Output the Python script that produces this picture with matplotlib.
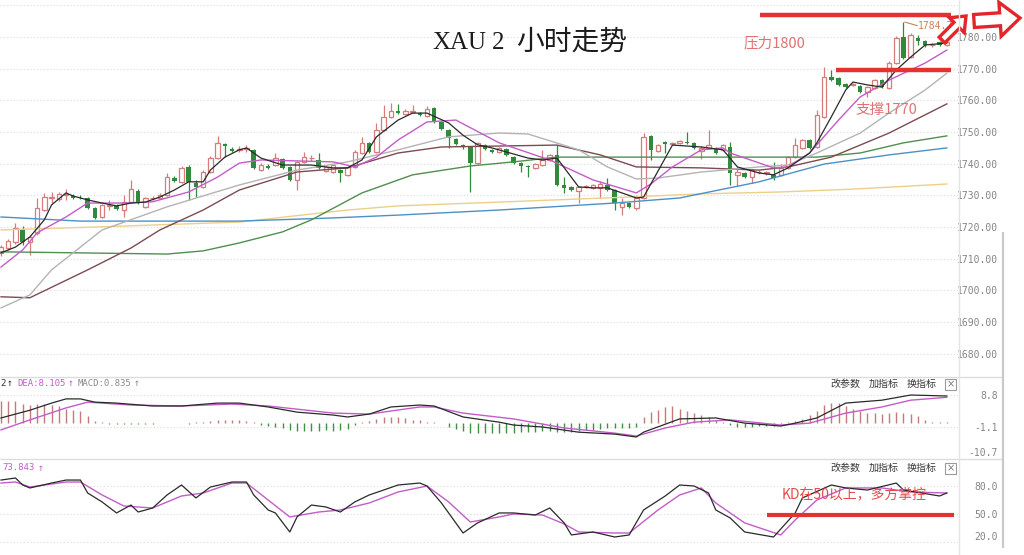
import matplotlib.pyplot as plt
from matplotlib.patches import Rectangle, FancyArrow
import numpy as np

# XAU 2h candles, oldest first
opens = [1711.9, 1713.4, 1715.3, 1719.4, 1715.3, 1718.2, 1725.4, 1729.3, 1728.9, 1730.0,
         1729.8, 1729.6, 1729.2, 1726.1, 1723.2, 1726.8, 1726.7, 1725.4, 1728.0, 1731.4,
         1726.4, 1729.1, 1729.2, 1730.2, 1735.5, 1734.3, 1739.0, 1734.0, 1732.7, 1737.4,
         1741.8, 1746.2, 1744.7, 1744.3, 1744.6, 1744.4, 1738.0, 1739.3, 1739.6, 1741.5,
         1739.0, 1734.9, 1740.6, 1741.7, 1741.2, 1737.7, 1737.4, 1738.0, 1736.5, 1739.0,
         1743.4, 1746.6, 1743.7, 1750.7, 1754.8, 1756.7, 1755.7, 1756.3, 1756.0, 1755.1,
         1757.6, 1753.2, 1750.7, 1747.8, 1745.9, 1745.3, 1740.3, 1745.9, 1744.4, 1743.7,
         1744.7, 1742.1, 1740.3, 1739.3, 1738.7, 1739.6, 1741.2, 1742.8, 1733.3, 1732.7,
         1731.4, 1732.6, 1732.4, 1732.4, 1733.3, 1731.7, 1726.4, 1727.6, 1726.1, 1729.2,
         1748.8, 1744.0, 1746.9, 1746.2, 1746.6, 1746.9, 1746.6, 1744.0, 1745.0, 1745.0,
         1744.4, 1745.3, 1736.5, 1737.1, 1735.8, 1737.3, 1737.0, 1736.5, 1736.5, 1738.7,
         1742.1, 1745.0, 1747.5, 1745.3, 1754.8, 1767.4, 1767.1, 1765.2, 1764.8, 1764.5,
         1762.6, 1763.9, 1766.4, 1763.9, 1771.8, 1780.0, 1773.7, 1779.7, 1778.7, 1777.4,
         1778.4, 1777.5]
highs = [1714.5, 1716.2, 1721.3, 1720.4, 1717.5, 1729.2, 1730.8, 1731.1, 1731.2, 1732.0,
         1730.3, 1730.1, 1729.6, 1726.4, 1727.4, 1728.6, 1727.3, 1730.2, 1734.9, 1732.0,
         1729.6, 1729.8, 1730.8, 1737.1, 1736.0, 1739.2, 1739.6, 1734.9, 1737.9, 1742.3,
         1748.8, 1746.6, 1745.2, 1745.6, 1746.0, 1744.8, 1740.2, 1739.8, 1743.4, 1741.9,
         1739.4, 1741.0, 1743.7, 1742.8, 1743.4, 1739.4, 1740.0, 1738.4, 1739.4, 1744.2,
         1748.5, 1747.0, 1752.9, 1758.5, 1759.2, 1758.9, 1757.2, 1758.5, 1756.4, 1758.2,
         1758.0, 1753.6, 1751.1, 1748.2, 1746.3, 1745.7, 1747.0, 1746.3, 1744.8, 1745.4,
         1745.1, 1742.5, 1740.7, 1739.7, 1740.3, 1744.4, 1743.2, 1746.0, 1735.8, 1733.1,
         1733.1, 1733.2, 1733.7, 1734.6, 1735.5, 1732.1, 1729.2, 1728.0, 1730.2, 1749.7,
         1749.2, 1746.3, 1747.3, 1747.0, 1747.6, 1750.0, 1747.0, 1745.6, 1750.7, 1745.4,
         1746.3, 1746.9, 1739.0, 1737.5, 1738.4, 1738.0, 1737.7, 1740.6, 1740.0, 1742.5,
         1748.1, 1747.9, 1747.9, 1757.0, 1770.5, 1769.6, 1767.5, 1765.6, 1765.5, 1764.9,
         1764.6, 1766.8, 1766.8, 1772.3, 1780.2, 1784.7, 1781.3, 1780.6, 1779.1, 1778.2,
         1778.8, 1778.8]
lows = [1711.0, 1712.8, 1714.8, 1714.4, 1711.2, 1717.5, 1725.0, 1727.6, 1728.4, 1728.6,
        1728.8, 1729.0, 1725.7, 1722.6, 1722.8, 1725.4, 1725.3, 1723.2, 1727.6, 1727.2,
        1726.0, 1728.7, 1728.8, 1729.8, 1734.2, 1733.9, 1728.6, 1729.5, 1732.3, 1737.0,
        1741.4, 1742.1, 1743.6, 1743.7, 1743.7, 1738.3, 1737.6, 1738.3, 1739.2, 1738.3,
        1734.5, 1731.7, 1740.2, 1740.8, 1738.3, 1737.3, 1737.0, 1734.3, 1736.0, 1738.6,
        1743.0, 1743.3, 1743.3, 1750.3, 1754.4, 1755.6, 1755.3, 1756.0, 1755.0, 1754.7,
        1752.8, 1750.6, 1745.0, 1745.8, 1744.6, 1731.1, 1739.9, 1744.3, 1743.3, 1743.3,
        1742.4, 1739.9, 1737.4, 1735.8, 1738.3, 1739.2, 1740.8, 1733.0, 1730.8, 1731.3,
        1727.6, 1732.2, 1732.0, 1729.2, 1731.3, 1725.4, 1723.8, 1726.0, 1725.4, 1728.8,
        1741.2, 1743.6, 1743.4, 1745.8, 1746.2, 1746.2, 1744.6, 1741.5, 1744.6, 1743.0,
        1744.0, 1733.3, 1733.0, 1735.4, 1734.0, 1736.9, 1736.6, 1734.9, 1736.1, 1738.3,
        1741.7, 1744.6, 1744.6, 1744.9, 1754.4, 1766.0, 1764.5, 1763.8, 1764.4, 1762.2,
        1761.1, 1763.5, 1763.8, 1763.5, 1771.4, 1773.0, 1773.3, 1777.5, 1776.8, 1777.0,
        1777.1, 1777.1]
closes = [1713.8, 1715.6, 1719.7, 1715.3, 1716.9, 1726.1, 1729.5, 1729.6, 1730.5, 1730.3,
          1729.2, 1729.4, 1726.1, 1722.9, 1727.0, 1727.1, 1725.7, 1728.0, 1732.0, 1727.6,
          1729.2, 1729.3, 1730.2, 1735.8, 1734.6, 1738.7, 1734.3, 1732.7, 1737.4, 1741.8,
          1746.6, 1745.6, 1744.0, 1744.5, 1744.8, 1738.7, 1739.6, 1738.7, 1741.8, 1738.7,
          1734.9, 1740.6, 1742.1, 1741.9, 1738.7, 1739.0, 1739.6, 1737.1, 1739.0, 1743.7,
          1746.6, 1743.7, 1750.7, 1754.8, 1756.7, 1756.0, 1756.7, 1756.4, 1755.4, 1757.3,
          1753.2, 1751.0, 1748.1, 1746.2, 1745.3, 1740.3, 1746.6, 1744.7, 1743.7, 1745.0,
          1742.8, 1740.3, 1739.3, 1739.0, 1739.9, 1741.2, 1742.8, 1733.3, 1732.4, 1731.7,
          1732.7, 1732.8, 1733.3, 1733.6, 1731.7, 1727.6, 1727.6, 1726.4, 1729.2, 1748.5,
          1744.4, 1745.9, 1746.2, 1746.6, 1747.2, 1746.6, 1745.0, 1745.0, 1745.9, 1743.4,
          1745.9, 1737.1, 1737.4, 1735.8, 1738.0, 1737.5, 1737.2, 1735.5, 1738.7, 1742.1,
          1745.9, 1747.5, 1745.0, 1755.4, 1767.4, 1766.4, 1764.9, 1764.2, 1765.0, 1762.6,
          1764.2, 1766.4, 1764.2, 1771.8, 1779.7, 1773.4, 1780.6, 1778.7, 1777.5, 1777.6,
          1777.5, 1778.4]

# moving averages, read at bar positions
ma5_x = [0, 2, 4, 6, 7, 9, 10, 12, 14, 16, 18, 20, 22, 24, 26, 28, 29, 31, 33, 34,
         36, 39, 41, 43, 46, 48, 50, 52, 55, 57, 59, 62, 64, 66, 68, 73, 75, 77, 80, 82,
         84, 88, 89, 93, 97, 100, 102, 105, 107, 109, 112, 113, 115, 117, 118, 120, 122, 124, 126, 128, 131]
ma5 = [1711.9, 1713.7, 1716.9, 1722.3, 1727.0, 1730.8, 1729.8, 1728.6, 1727.6, 1726.7,
       1727.6, 1727.9, 1729.5, 1731.7, 1734.3, 1734.3, 1738.0, 1742.1, 1744.4, 1745.0,
       1741.8, 1739.6, 1739.6, 1739.6, 1738.7, 1738.7, 1741.2, 1748.5, 1753.8, 1756.0,
       1756.0, 1752.9, 1749.0, 1746.0, 1745.0, 1741.8, 1741.2, 1741.8, 1732.7, 1732.4,
       1732.4, 1729.2, 1729.5, 1745.9, 1745.3, 1744.4, 1739.0, 1737.1, 1736.5, 1738.7,
       1743.4, 1746.6, 1754.8, 1763.3, 1765.8, 1764.9, 1764.2, 1769.6, 1773.7, 1777.5, 1778.1]
ma10_x = [0, 3, 5, 9, 12, 17, 21, 26, 30, 33, 36, 46, 49, 52, 55, 59, 63, 69, 76, 82,
          88, 90, 93, 97, 100, 101, 107, 109, 112, 116, 119, 123, 128, 131]
ma10 = [1707.4, 1712.8, 1718.2, 1723.2, 1727.6, 1727.6, 1728.0, 1731.1, 1735.8, 1740.2,
        1741.2, 1740.6, 1739.0, 1742.1, 1747.5, 1753.2, 1753.8, 1746.6, 1741.2, 1734.9,
        1730.8, 1733.6, 1739.0, 1744.4, 1745.0, 1743.4, 1738.7, 1739.0, 1743.4, 1753.8,
        1761.1, 1766.4, 1771.8, 1775.9]
ma20_x = [0, 4, 7, 14, 23, 33, 41, 48, 55, 62, 69, 73, 80, 84, 88, 91, 97, 105, 109, 113,
          119, 123, 128, 131]
ma20 = [1694.5, 1698.6, 1706.5, 1719.1, 1726.4, 1733.3, 1738.0, 1740.6, 1744.4, 1748.5,
        1749.7, 1749.4, 1744.4, 1739.0, 1735.2, 1735.5, 1737.4, 1739.0, 1739.6, 1743.4,
        1749.7, 1756.0, 1763.3, 1768.6]
ma30_x = [0, 4, 12, 18, 22, 28, 33, 41, 48, 55, 61, 77, 83, 88, 97, 105, 109, 115, 123, 131]
ma30 = [1698.0, 1697.7, 1706.5, 1713.4, 1719.1, 1725.4, 1731.7, 1737.4, 1738.7, 1743.4,
        1745.3, 1745.9, 1742.8, 1739.0, 1738.7, 1738.0, 1739.0, 1742.1, 1749.7, 1758.9]
ma60_x = [0, 23, 28, 33, 39, 43, 50, 57, 65, 71, 77, 113, 119, 125, 131]
ma60 = [1712.2, 1711.5, 1712.5, 1715.0, 1718.5, 1722.3, 1730.8, 1736.5, 1739.3, 1740.6,
        1742.1, 1742.1, 1743.4, 1746.6, 1748.8]
ma120_x = [0, 11, 33, 46, 55, 69, 85, 94, 105, 114, 123, 131]
ma120 = [1723.2, 1721.9, 1721.9, 1722.9, 1723.8, 1725.4, 1727.6, 1729.2, 1734.3, 1739.9, 1742.8, 1745.0]
ma250_x = [0, 14, 33, 48, 55, 69, 87, 97, 108, 118, 131]
ma250 = [1719.1, 1720.1, 1721.6, 1725.4, 1726.7, 1727.9, 1729.5, 1730.5, 1731.1, 1732.0, 1733.6]

# MACD
macd_hist = [6.8, 6.8, 6.8, 5.9, 5.6, 5.9, 5.9, 5.6, 5.3, 4.6, 4.3, 3.7, 2.2, 0.9,
             0.3, -0.3, -0.3, -0.3, -0.3, -0.3, -0.3, -0.3, 0.2, 0.2, 0.0, 0.2, -0.2,
             0.3, 0.5, 0.9, 1.2, 1.2, 1.2, 1.0, 0.8, 0.3,
             -0.6, -0.9, -1.2, -1.5, -1.9, -2.2, -2.2, -2.2, -2.2, -2.0, -2.2, -2.0, -1.6, -0.6,
             0.3, 0.9, 1.5, 1.9, 2.0, 1.9, 1.6, 1.2, 1.0, 0.6, 0.3, 0.0,
             -1.0, -1.6, -2.2, -3.0, -3.1, -3.1, -3.1, -3.0, -3.1,
             -3.0, -2.8, -2.6, -2.5, -2.3, -2.2, -2.6, -2.6, -2.5, -2.3, -2.0, -1.9, -1.6,
             -1.4, -1.5, -1.5, -1.3, -1.0,
             1.9, 3.4, 4.3, 5.0, 5.3, 4.6, 4.0, 3.1, 2.5, 1.9, 1.2, 0.3,
             -0.6, -1.2, -1.2, -1.1, -0.9, -0.9, -0.9, -0.3,
             0.3, 0.9, 1.5, 2.5, 4.0, 5.6, 6.2, 6.2, 5.3, 4.6, 3.7, 3.1, 3.1, 2.8, 3.1,
             3.4, 3.1, 2.8, 2.2, 1.2, 0.6, 0.6, 0.5]
dif_x = [0, 4, 7, 9, 11, 13, 16, 21, 25, 30, 33, 37, 41, 46, 48, 51, 54, 58, 60, 64,
         69, 71, 75, 80, 85, 88, 89, 94, 99, 103, 108, 110, 113, 117, 122, 126, 131]
dif = [1.7, 4.1, 6.3, 7.6, 7.6, 6.6, 6.3, 5.4, 5.4, 6.3, 6.3, 5.1, 3.5, 2.6, 2.0, 2.9,
       5.1, 5.7, 5.4, 2.0, 0.4, -0.5, -1.1, -2.7, -3.3, -4.2, -2.7, 1.4, 1.7, 0.1, -0.8,
       0.1, 1.7, 6.3, 7.2, 8.8, 8.5]
dea_x = [0, 4, 9, 12, 18, 25, 32, 37, 46, 51, 58, 60, 64, 71, 78, 85, 88, 92, 96, 101,
         108, 112, 117, 122, 126, 131]
dea = [-2.0, 1.1, 4.8, 6.6, 5.7, 5.4, 6.0, 5.4, 3.2, 2.9, 5.1, 5.1, 3.2, 1.4, -1.4,
       -3.0, -3.9, -1.4, 0.4, 1.1, -0.5, 0.1, 3.2, 5.1, 7.2, 8.1]

# KD
k_x = [0, 2, 3, 4, 7, 9, 11, 12, 14, 16, 18, 19, 21, 23, 25, 27, 29, 32, 34, 35,
       37, 38, 40, 41, 43, 45, 47, 49, 51, 53, 55, 58, 59, 61, 64, 66, 69, 71, 74, 76,
       78, 79, 82, 85, 87, 89, 92, 94, 96, 98, 99, 101, 103, 107, 110, 111, 115, 117, 120, 124,
       125, 130, 131]
k_vals = [86.4, 88.6, 81.1, 77.9, 83.2, 86.4, 86.4, 72.5, 62.9, 51.1,
          59.6, 52.1, 56.4, 70.4, 81.1, 67.2, 78.9, 84.3, 84.3, 70.4,
          54.3, 51.1, 30.7, 46.8, 59.6, 57.5, 52.1, 62.9, 70.4, 75.7,
          81.1, 83.2, 80.0, 61.8, 29.6, 40.4, 51.1, 51.1, 48.9, 56.4,
          40.4, 27.5, 30.7, 25.3, 27.5, 54.3, 69.3, 81.1, 80.0, 72.5,
          54.3, 45.7, 30.7, 25.3, 51.1, 67.2, 81.1, 77.9, 75.7, 83.2,
          75.7, 69.3, 72.5]
d_x = [0, 2, 4, 9, 11, 14, 17, 21, 25, 28, 32, 34, 37, 40, 44, 47, 51, 55, 59, 62,
       65, 69, 71, 75, 78, 80, 85, 87, 91, 94, 97, 99, 103, 108, 110, 113, 117, 122, 126, 131]
d_vals = [83.2, 84.3, 78.9, 84.3, 84.3, 70.4, 58.6, 56.4, 69.3, 72.5,
          83.2, 83.2, 65.0, 46.8, 52.1, 54.3, 61.8, 73.6, 80.0, 62.9,
          41.4, 46.8, 50.0, 48.9, 39.3, 30.7, 29.6, 29.6, 54.3, 70.4,
          77.9, 61.8, 40.4, 27.5, 43.6, 65.0, 77.9, 77.9, 73.6, 72.5]

price_ticks = [1680, 1690, 1700, 1710, 1720, 1730, 1740, 1750, 1760, 1770, 1780]
macd_ticks = [8.8, -1.1, -10.7]
kd_ticks = [80.0, 50.0, 20.0]

UP = '#d67c7c'
DOWN = '#2f8a3b'
RED = '#e3322f'
PURPLE = '#c45cc8'
MONO = ['DejaVu Sans Mono', 'Noto Sans CJK SC']
CJK = ['Noto Sans CJK SC', 'DejaVu Sans']
plt.rcParams['font.family'] = ['DejaVu Sans', 'Noto Sans CJK SC']

W, H = 1024, 555
fig = plt.figure(figsize=(W / 100, H / 100), dpi=100)


def panel(top, bottom):
    return fig.add_axes([0, 1 - bottom / H, 958 / W, (bottom - top) / H])


def style(a, ticks, fmt, ylim):
    a.set_xlim(-0.14, 132.55)
    a.set_ylim(*ylim)
    a.set_xticks([])
    a.yaxis.tick_right()
    a.set_yticks(ticks)
    a.set_yticklabels([fmt.format(t) for t in ticks], family=MONO, fontsize=7, color='#858585')
    a.tick_params(axis='y', length=0, pad=28.8)
    plt.setp(a.get_yticklabels(), ha='right')
    for s in a.spines.values():
        s.set_visible(False)
    a.grid(axis='y', color='#dadada', ls=(0, (1, 2)), lw=0.8)
    a.set_axisbelow(True)


ax = panel(0, 376)
ax_macd = panel(377, 458)
ax_kd = panel(460, 555)

# ---- main panel ----
n = len(closes)
idx = np.arange(n)
o, h, l, c = (np.array(v) for v in (opens, highs, lows, closes))
up = c >= o
body_lo = np.minimum(o, c)
body_h = np.maximum(np.abs(c - o), 0.25)

ax.vlines(idx[up], l[up], h[up], color=UP, lw=0.9, zorder=2)
ax.vlines(idx[~up], l[~up], h[~up], color=DOWN, lw=0.9, zorder=2)
ax.bar(idx[up], body_h[up], bottom=body_lo[up], width=0.62, facecolor='white',
       edgecolor=UP, lw=0.9, zorder=3)
ax.bar(idx[~up], body_h[~up], bottom=body_lo[~up], width=0.62, color=DOWN, zorder=3)

ax.plot(ma250_x, ma250, color='#ecd08a', lw=1.0, zorder=4)
ax.plot(ma120_x, ma120, color='#4a92c6', lw=1.0, zorder=4)
ax.plot(ma60_x, ma60, color='#4f8f4f', lw=1.0, zorder=4)
ax.plot(ma30_x, ma30, color='#7d4a52', lw=1.0, zorder=4)
ax.plot(ma20_x, ma20, color='#b4b4b4', lw=1.0, zorder=4)
ax.plot(ma10_x, ma10, color=PURPLE, lw=1.0, zorder=4)
ax.plot(ma5_x, ma5, color='#2a2a2a', lw=0.9, zorder=5)

style(ax, price_ticks, '{:.2f}', (1673.0, 1791.7))
ax.axhline(1790, color='#dadada', ls=(0, (1, 2)), lw=0.8, zorder=0)

# support / resistance marks
ax.hlines(1787.0, 105.1, 131.6, color=RED, lw=3.2, zorder=6)
ax.hlines(1769.7, 115.7, 131.6, color=RED, lw=3.2, zorder=6)
ax.text(107.2, 1778.1, '压力1800', family=CJK, fontsize=10.5, color='#e07272',
        ha='center', va='center', zorder=7)
ax.text(122.6, 1757.0, '支撑1770', family=CJK, fontsize=10.5, color='#e07272',
        ha='center', va='center', zorder=7)
ax.plot([125.2, 126.0, 126.9], [1784.7, 1784.2, 1783.6], color='#c8825c', lw=0.8, zorder=6)
ax.text(127.0, 1783.4, '1784.7', family=MONO, fontsize=7, color='#c8825c',
        va='center', zorder=6)

# ---- MACD panel ----
hist = np.array(macd_hist)
ax_macd.vlines(idx[hist >= 0], 0, hist[hist >= 0], color='#c27a7a', lw=1.0)
ax_macd.vlines(idx[hist < 0], 0, hist[hist < 0], color='#3f8f45', lw=1.0)
ax_macd.plot(dea_x, dea, color=PURPLE, lw=1.0)
ax_macd.plot(dif_x, dif, color='#2a2a2a', lw=0.9)
style(ax_macd, macd_ticks, '{:.1f}', (-10.7, 14.38))
ax_macd.get_yticklabels()[-1].set_va('bottom')

# ---- KD panel ----
ax_kd.plot(d_x, d_vals, color=PURPLE, lw=1.0)
ax_kd.plot(k_x, k_vals, color='#2a2a2a', lw=0.9)
style(ax_kd, kd_ticks, '{:.1f}', (6.0, 107.9))
ax_kd.get_yticklabels()[-1].set_va('bottom')
ax_kd.hlines(48.9, 106.1, 132.0, color=RED, lw=3.0, zorder=6)
ax_kd.text(118.1, 71.4, 'KD在50以上，多方掌控', family=CJK, fontsize=10, color='#e84a4a',
           ha='center', va='center', zorder=7)

# ---- overlay in pixel coordinates ----
ov = fig.add_axes([0, 0, 1, 1], zorder=10)
ov.set_xlim(0, W)
ov.set_ylim(H, 0)
ov.axis('off')

ov.hlines([376.5, 458.5], 0, 1003, color='#dcdcdc', lw=1.0)
ov.vlines(958.5, 0, H, color='#e4e4e4', lw=1.0)
ov.vlines(1003, 232, 548, color='#c9c9c9', lw=1.6)

# title "XAU 2 小时走势", spaced like the source
ov.text(459, 43, 'XAU', family='Liberation Serif', fontsize=18, color='#1c1c1c',
        ha='center', va='center')
ov.text(498, 43, '2', family='Liberation Serif', fontsize=18, color='#1c1c1c',
        ha='center', va='center')
ov.text(572, 42, '小时走势', family=CJK, fontsize=20, color='#1c1c1c',
        ha='center', va='center')

# indicator headers (the DIF value is cut off by the left edge in the source)
hy = 383
ov.text(0, hy, '2', family=MONO, fontsize=6.5, color='#333333', va='center')
ov.text(7, hy, '↑', family=MONO, fontsize=7, color='#333333', va='center')
ov.text(17, hy, 'DEA:8.105', family=MONO, fontsize=6.5, color=PURPLE, va='center')
ov.text(68, hy, '↑', family=MONO, fontsize=7, color=PURPLE, va='center')
ov.text(78, hy, 'MACD:0.835', family=MONO, fontsize=6.5, color='#8a8a8a', va='center')
ov.text(134, hy, '↑', family=MONO, fontsize=7, color='#8a8a8a', va='center')
ov.text(2, 468, '73.843', family=MONO, fontsize=6.5, color=PURPLE, va='center')
ov.text(38, 468, '↑', family=MONO, fontsize=7, color=PURPLE, va='center')

for by in (384, 468):
    for bx, word in zip((830, 869, 907), ('改参数', '加指标', '换指标')):
        ov.text(bx, by, word, family=CJK, fontsize=7.2, color='#3a3a3a', va='center')
    ov.add_patch(Rectangle((945, by - 5.5), 11, 11, fill=False, ec='#9a9a9a', lw=0.8))
    ov.text(950.5, by, '×', fontsize=7, color='#7a7a7a', ha='center', va='center')

# hand-drawn arrows pointing off the chart
ov.add_patch(FancyArrow(942, 40, 24, -24, width=8, head_width=21, head_length=13,
                        length_includes_head=True, fc='white', ec='#e3262b', lw=2.4))
ov.add_patch(FancyArrow(974, 21, 46, -3, width=13, head_width=34, head_length=20,
                        length_includes_head=True, fc='white', ec='#e3262b', lw=2.4))

fig.savefig('out.png', dpi=100)
